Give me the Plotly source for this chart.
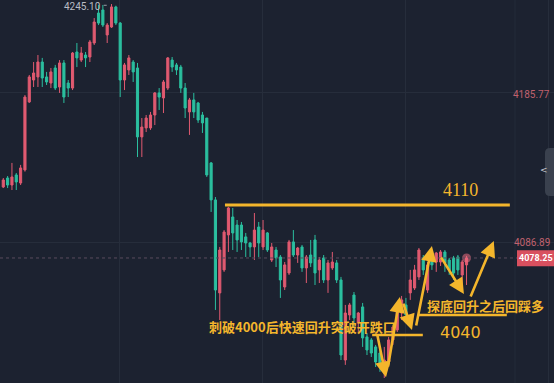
import plotly.graph_objects as go

# ---- data ----
opens = [4124.9, 4130.8, 4126.2, 4132.8, 4127.5, 4136.1, 4180.8, 4195.2, 4197.2, 4207.0,
         4197.2, 4193.2, 4203.1, 4190.6, 4206.4, 4193.2, 4189.9, 4213.6, 4208.3, 4211.6,
         4210.3, 4219.5, 4239.2, 4241.2, 4224.8, 4230.0, 4243.2, 4232.6, 4195.2, 4201.8,
         4207.0, 4203.1, 4157.8, 4163.7, 4163.7, 4172.2, 4186.7, 4183.4, 4189.9, 4208.3,
         4205.1, 4203.7, 4189.9, 4174.2, 4182.1, 4180.1, 4172.2, 4170.2, 4140.7, 4116.4,
         4055.3, 4070.4, 4093.4, 4105.2, 4099.9, 4099.9, 4092.1, 4088.1, 4085.5, 4098.6,
         4085.5, 4094.7, 4076.9, 4083.5, 4078.9, 4059.2, 4068.4, 4088.8, 4080.2, 4085.5,
         4071.7, 4080.2, 4090.1, 4070.4, 4078.3, 4063.8, 4071.7, 4075.0, 4063.8, 4011.2,
         4040.8, 4053.9, 4035.5, 4046.1, 4026.4, 4024.4, 4019.8, 4015.8, 4004.7, 4009.9,
         4024.4, 4031.0, 4042.1, 4047.4, 4055.3, 4058.5, 4065.8, 4078.3, 4057.2, 4080.2,
         4075.6, 4075.6, 4082.2, 4076.9, 4078.3, 4078.9, 4067.1, 4073.7]
highs = [4130.8, 4132.1, 4140.7, 4134.1, 4139.4, 4185.3, 4198.5, 4207.0, 4211.6, 4209.7,
         4200.5, 4203.1, 4205.1, 4208.3, 4208.3, 4195.2, 4213.6, 4219.5, 4216.9, 4213.6,
         4221.5, 4235.9, 4244.5, 4244.5, 4232.6, 4245.1, 4244.0, 4233.3, 4206.4, 4211.6,
         4208.3, 4206.4, 4170.2, 4172.2, 4174.2, 4187.3, 4189.9, 4195.2, 4210.3, 4210.3,
         4206.4, 4205.1, 4193.2, 4183.4, 4186.7, 4180.8, 4174.2, 4170.2, 4141.3, 4118.3,
         4085.5, 4096.6, 4111.8, 4111.1, 4103.2, 4101.9, 4094.7, 4088.8, 4107.8, 4101.9,
         4103.2, 4095.3, 4088.1, 4085.5, 4080.2, 4075.6, 4090.1, 4096.6, 4085.5, 4086.8,
         4080.2, 4090.1, 4093.4, 4078.9, 4080.2, 4076.9, 4082.2, 4076.9, 4065.8, 4047.4,
         4048.7, 4055.9, 4042.8, 4048.7, 4029.0, 4025.7, 4021.1, 4019.1, 4019.8, 4026.4,
         4034.2, 4047.4, 4053.3, 4052.0, 4070.4, 4073.7, 4084.8, 4080.2, 4075.6, 4083.5,
         4082.2, 4083.5, 4083.5, 4078.3, 4079.6, 4080.2, 4076.9, 4079.6]
lows = [4124.2, 4124.2, 4122.9, 4122.9, 4126.2, 4135.0, 4180.1, 4190.6, 4190.6, 4190.6,
        4191.9, 4189.9, 4188.6, 4186.7, 4180.1, 4184.0, 4188.6, 4203.7, 4207.0, 4203.7,
        4207.0, 4218.2, 4231.3, 4230.0, 4219.5, 4229.4, 4231.3, 4184.0, 4188.6, 4198.5,
        4193.9, 4144.6, 4144.6, 4161.0, 4162.4, 4165.6, 4175.5, 4173.5, 4188.6, 4200.5,
        4198.5, 4186.7, 4170.2, 4159.1, 4170.2, 4167.0, 4160.4, 4131.5, 4108.5, 4044.1,
        4037.5, 4069.1, 4082.2, 4083.5, 4082.2, 4083.5, 4078.9, 4078.9, 4076.9, 4078.9,
        4083.5, 4082.2, 4075.6, 4072.3, 4052.0, 4057.2, 4067.1, 4078.9, 4075.0, 4069.1,
        4061.8, 4072.3, 4060.5, 4061.8, 4061.8, 4055.3, 4070.4, 4061.8, 4011.2, 4008.0,
        4037.5, 4032.9, 4029.0, 4019.8, 4014.5, 4013.2, 4006.6, 4003.4, 3999.4, 4008.0,
        4021.1, 4029.6, 4037.5, 4037.5, 4050.7, 4057.2, 4063.8, 4067.1, 4055.3, 4070.4,
        4069.1, 4073.0, 4069.1, 4067.1, 4063.8, 4067.1, 4059.2, 4060.5]
closes = [4129.5, 4126.2, 4131.5, 4128.2, 4137.4, 4184.0, 4197.2, 4199.8, 4207.0, 4196.5,
          4193.9, 4200.5, 4189.9, 4206.4, 4184.0, 4189.9, 4212.9, 4209.7, 4212.9, 4209.7,
          4220.2, 4233.3, 4232.6, 4231.3, 4231.3, 4243.2, 4232.6, 4195.2, 4205.1, 4209.7,
          4200.5, 4157.8, 4164.3, 4170.2, 4172.2, 4186.7, 4184.0, 4193.9, 4209.7, 4203.7,
          4201.8, 4189.9, 4176.8, 4182.1, 4174.2, 4168.9, 4167.0, 4132.8, 4116.4, 4057.2,
          4083.5, 4095.3, 4111.1, 4094.7, 4090.1, 4088.8, 4088.1, 4085.5, 4096.6, 4088.1,
          4096.6, 4083.5, 4085.5, 4078.3, 4063.8, 4073.7, 4088.8, 4080.2, 4084.8, 4071.7,
          4078.9, 4075.0, 4068.4, 4076.9, 4063.8, 4075.0, 4075.6, 4063.8, 4014.5, 4042.1,
          4047.4, 4038.8, 4042.1, 4025.7, 4017.8, 4015.8, 4009.9, 4006.6, 4011.2, 4024.4,
          4032.9, 4044.1, 4050.7, 4040.8, 4063.8, 4070.4, 4083.5, 4070.4, 4073.7, 4073.7,
          4081.5, 4082.2, 4075.0, 4070.4, 4068.4, 4070.4, 4075.6, 4078.25]

x_idx = list(range(len(opens)))

high_label = "4245.10"
price_labels = ["4185.77", "4086.89"]
last_label = "4078.25"
level_hi = 4110
level_lo = 4040
note1 = "刺破4000后快速回升突破开跌口"
note2 = "探底回升之后回踩多"

# ---- style ----
BG = "#1c2230"
UP = "#e05a70"
DOWN = "#2bbf9f"
GOLD = "#f4b62c"
GRID = "#262d3b"

fig = go.Figure()
fig.add_trace(go.Candlestick(
    x=x_idx, open=opens, high=highs, low=lows, close=closes,
    increasing=dict(line=dict(color=UP, width=1), fillcolor=UP),
    decreasing=dict(line=dict(color=DOWN, width=1), fillcolor=DOWN),
    whiskerwidth=0, showlegend=False, hoverinfo="skip"))

# glow dot on last candle
fig.add_trace(go.Scatter(x=[x_idx[-1]], y=[closes[-1]], mode="markers",
                         marker=dict(size=9, color="rgba(240,110,130,0.55)"),
                         showlegend=False, hoverinfo="skip"))

# last price dotted line
fig.add_hline(y=closes[-1], line=dict(color="#5a4b5e", width=1, dash="dot"))

# drawn levels
fig.add_shape(type="line", x0=51.2, x1=117.0, y0=4113.1, y1=4113.1,
              line=dict(color=GOLD, width=3))
fig.add_shape(type="line", x0=85.2, x1=96.9, y0=4027.7, y1=4027.7,
              line=dict(color=GOLD, width=2.5))
fig.add_shape(type="line", x0=96.0, x1=116.3, y0=4040.8, y1=4040.8,
              line=dict(color=GOLD, width=2.5))

# arrows (tail -> head)
arrows = [((86.3, 4029.0), (88.4, 3999.9)),
          ((88.8, 4006.0), (91.6, 4052.6)),
          ((92.3, 4049.3), (94.4, 4031.0)),
          ((95.3, 4032.9), (99.0, 4086.1)),
          ((100.9, 4079.6), (106.4, 4054.6)),
          ((107.8, 4052.0), (113.3, 4089.4))]
for (tx, ty), (hx, hy) in arrows:
    fig.add_annotation(x=hx, y=hy, ax=tx, ay=ty, xref="x", yref="y",
                       axref="x", ayref="y", showarrow=True, text="",
                       arrowhead=2, arrowsize=1.2, arrowwidth=2.6,
                       arrowcolor=GOLD)

fig.add_annotation(x=105.5, y=4122.9, text=str(level_hi), showarrow=False,
                   font=dict(family="Liberation Serif", size=18, color=GOLD))
fig.add_annotation(x=105.5, y=4029.0, text=str(level_lo), showarrow=False,
                   font=dict(family="DejaVu Sans", size=16, color=GOLD))
fig.add_annotation(x=47.0, y=4032.9, text="<b>" + note1 + "</b>", showarrow=False,
                   xanchor="left",
                   font=dict(family="Noto Sans CJK SC", size=13, color=GOLD))
fig.add_annotation(x=97.4, y=4046.7, text="<b>" + note2 + "</b>", showarrow=False,
                   xanchor="left",
                   font=dict(family="Noto Sans CJK SC", size=13, color=GOLD))

# high label with short dotted leader
fig.add_annotation(x=23.0, y=4243.6, text=high_label, showarrow=False,
                   xanchor="right", yanchor="middle",
                   font=dict(family="Roboto", size=10, color="#b9bcc4"))
fig.add_shape(type="line", x0=23.2, x1=24.4, y0=4244.3, y1=4244.3,
              line=dict(color="#9a9ea8", width=1, dash="dot"))

# right side price labels
W, H = 554, 383
fig.add_annotation(xref="paper", yref="y", x=552 / W, y=4185.77, text=price_labels[0],
                   showarrow=False, xanchor="right", yanchor="middle",
                   font=dict(family="Roboto", size=10, color="#c0616e"))
fig.add_annotation(xref="paper", yref="y", x=552 / W, y=4086.89 + 1.5, text=price_labels[1],
                   showarrow=False, xanchor="right", yanchor="middle",
                   font=dict(family="Roboto", size=10, color="#c0616e"))
fig.add_shape(type="rect", xref="paper", yref="y", x0=517 / W, x1=1.0,
              y0=closes[-1] - 5.5, y1=closes[-1] + 5.0,
              fillcolor="#d9505f", line=dict(width=0))
fig.add_annotation(xref="paper", yref="y", x=535.5 / W, y=closes[-1], text="<b>" + last_label + "</b>",
                   showarrow=False, xanchor="center", yanchor="middle",
                   font=dict(family="Roboto", size=9, color="#ffffff"))

# separator and side tab
fig.add_shape(type="line", xref="paper", yref="paper", x0=515 / W, x1=515 / W, y0=0, y1=1,
              line=dict(color="#232a38", width=1))
fig.add_shape(type="path", xref="paper", yref="paper",
              path="M %f %f L %f %f Q %f %f %f %f L %f %f Q %f %f %f %f L %f %f Z" % (
                  1.01, 1 - 148 / H, 550 / W, 1 - 148 / H, 545 / W, 1 - 148 / H, 545 / W, 1 - 153 / H,
                  545 / W, 1 - 191 / H, 545 / W, 1 - 196 / H, 550 / W, 1 - 196 / H, 1.01, 1 - 196 / H),
              fillcolor="#3a414e", line=dict(width=0))
fig.add_annotation(xref="paper", yref="paper", x=550 / W, y=1 - 170 / H, text="<",
                   showarrow=False, font=dict(family="DejaVu Sans", size=9, color="#c8ccd4"))

fig.update_layout(
    width=W, height=H, margin=dict(l=0, r=0, t=0, b=0),
    paper_bgcolor=BG, plot_bgcolor=BG,
    xaxis=dict(range=[-0.76, 127.2], showticklabels=False, zeroline=False,
               showgrid=True, gridcolor=GRID, tick0=26.9, dtick=33.0,
               rangeslider=dict(visible=False), fixedrange=True),
    yaxis=dict(range=[3996.1, 4247.76], showticklabels=False, zeroline=False,
               showgrid=True, gridcolor=GRID, tick0=4088.1, dtick=99.2),
)

fig.write_html("out.html")
